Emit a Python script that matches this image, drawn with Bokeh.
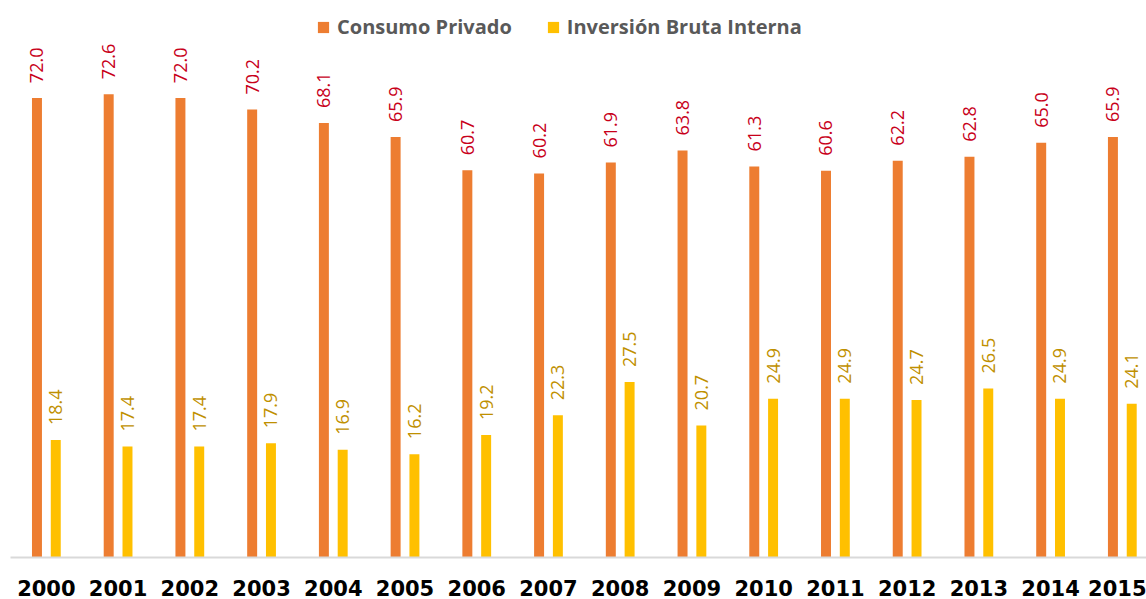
import math
from bokeh.plotting import figure
from bokeh.models import ColumnDataSource, Range1d, FixedTicker, LabelSet, Legend, LegendItem
from bokeh.core.properties import value
from bokeh.transform import dodge
from bokeh.embed import file_html
from bokeh.resources import INLINE

years = ["2000", "2001", "2002", "2003", "2004", "2005", "2006", "2007",
         "2008", "2009", "2010", "2011", "2012", "2013", "2014", "2015"]
consumo = [72.0, 72.6, 72.0, 70.2, 68.1, 65.9, 60.7, 60.2,
           61.9, 63.8, 61.3, 60.6, 62.2, 62.8, 65.0, 65.9]
inversion = [18.4, 17.4, 17.4, 17.9, 16.9, 16.2, 19.2, 22.3,
             27.5, 20.7, 24.9, 24.9, 24.7, 26.5, 24.9, 24.1]

idx = list(range(len(years)))
src = ColumnDataSource(dict(
    x=idx,
    consumo=consumo,
    inversion=inversion,
    lc=[f"{v:.1f}" for v in consumo],
    li=[f"{v:.1f}" for v in inversion],
))

ORANGE = "#ED7D31"
YELLOW = "#FFC000"

p = figure(width=1146, height=599, output_backend="svg", toolbar_location=None,
           x_range=Range1d(-0.5, 15.337), y_range=Range1d(0, 87.3),
           y_axis_location=None, min_border_left=10, min_border_right=0,
           min_border_top=0, min_border_bottom=42)
p.outline_line_color = None
p.xgrid.visible = False
p.ygrid.visible = False

bw = 0.139
r1 = p.vbar(x=dodge("x", -0.131, range=p.x_range), top="consumo", width=bw,
            source=src, fill_color=ORANGE, line_color=None)
r2 = p.vbar(x=dodge("x", 0.131, range=p.x_range), top="inversion", width=bw,
            source=src, fill_color=YELLOW, line_color=None)

lab1 = LabelSet(x=dodge("x", -0.131, range=p.x_range), y="consumo", text="lc", source=src,
                angle=math.pi / 2, text_align="left", text_baseline="middle",
                y_offset=15, text_color="#C8001A", text_font=value("Open Sans"),
                text_font_size="18px")
lab2 = LabelSet(x=dodge("x", 0.131, range=p.x_range), y="inversion", text="li", source=src,
                angle=math.pi / 2, text_align="left", text_baseline="middle",
                y_offset=15, text_color="#BF9000", text_font=value("Open Sans"),
                text_font_size="18px")
p.add_layout(lab1)
p.add_layout(lab2)

legend = Legend(items=[LegendItem(label="Consumo Privado", renderers=[r1]),
                       LegendItem(label="Inversión Bruta Interna", renderers=[r2])],
                orientation="horizontal", location=(306, 517),
                glyph_width=14, glyph_height=14, label_height=20,
                label_standoff=7, spacing=34, padding=0, margin=0,
                label_text_font="Open Sans", label_text_font_style="bold",
                label_text_font_size="20px", label_text_color="#595959",
                background_fill_alpha=0, border_line_color=None)
p.add_layout(legend, "center")

ax = p.xaxis[0]
ax.ticker = FixedTicker(ticks=idx)
ax.major_label_overrides = {i: y for i, y in zip(idx, years)}
ax.axis_line_color = "#D9D9D9"
ax.axis_line_width = 2
ax.major_tick_line_color = None
ax.minor_tick_line_color = None
ax.major_tick_in = 0
ax.major_tick_out = 0
ax.major_label_standoff = 22
ax.major_label_text_font = "DejaVu Sans"
ax.major_label_text_font_style = "bold"
ax.major_label_text_font_size = "21px"
ax.major_label_text_color = "#000000"

open("out.html", "w").write(file_html(p, INLINE))
